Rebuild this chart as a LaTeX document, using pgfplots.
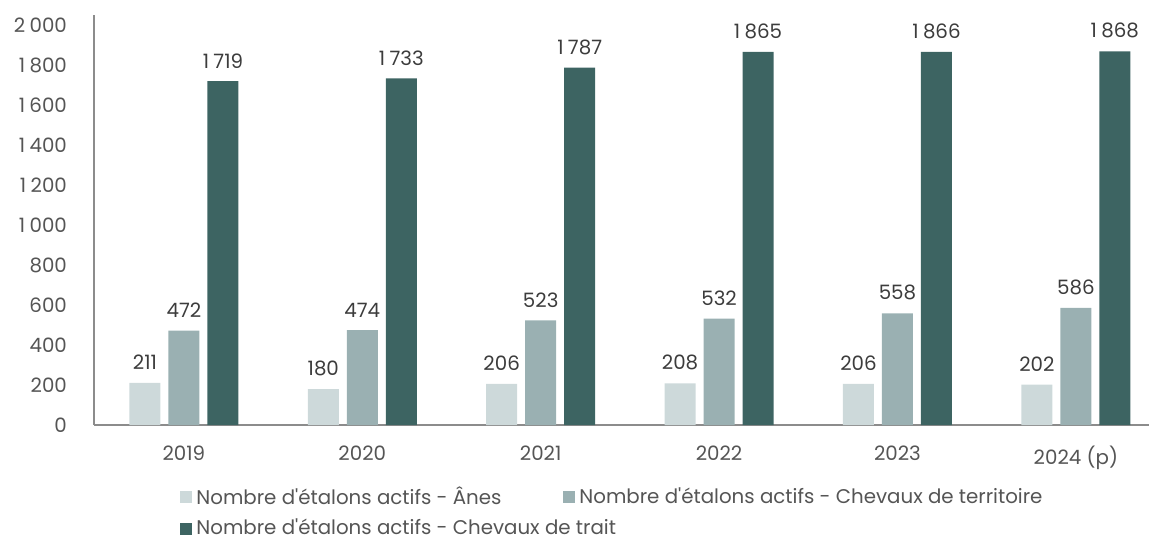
\documentclass[border=0pt]{standalone}
\usepackage{pgfplots}
\pgfplotsset{compat=1.18}
\usepackage{fontspec}
\setmainfont{Poppins}
\definecolor{cA}{RGB}{205,217,218}
\definecolor{cB}{RGB}{154,176,178}
\definecolor{cC}{RGB}{61,100,98}
\definecolor{txt}{RGB}{85,85,85}
\definecolor{lbl}{RGB}{60,60,60}
\definecolor{axl}{RGB}{140,140,140}
\newcommand{\f}{\fontsize{9.9}{11}\selectfont}
\begin{document}
\begin{tikzpicture}
\useasboundingbox (-47pt,-58pt) rectangle (529pt,212.5pt);
\begin{axis}[
  scale only axis, width=527.5pt, height=205pt,
  at={(0pt,0pt)}, anchor=south west,
  xmin=-0.504, xmax=5.41, ymin=0, ymax=2050,
  ybar=4pt, bar width=15.5pt,
  axis lines*=left,
  axis line style={axl, line width=0.75pt},
  xtick={0,1,2,3,4,5},
  xticklabels={2019,2020,2021,2022,2023,2024 (p)},
  ytick={0,200,...,2000},
  major tick length=0pt,
  tick label style={font=\f, text=txt},
  yticklabel style={xshift=-10pt},
  xticklabel style={yshift=-7pt},
  /pgf/number format/.cd, 1000 sep={\hspace{0.22em}}, assume math mode=true, /pgfplots/.cd,
  nodes near coords,
  nodes near coords style={font=\f, text=lbl, yshift=3pt},
  legend columns=2,
  legend cell align=left,
  legend style={draw=none, at={(axis description cs:0.5,0)}, anchor=north,
    xshift=-4pt, yshift=-26.5pt, font=\f, text=txt,
    /tikz/every even column/.append style={column sep=29pt},
    /tikz/row sep=2pt},
  legend image code/.code={\fill[#1] (-2pt,-3pt) rectangle (4pt,3pt);},
]
\addplot[fill=cA, draw=none] coordinates {(0,211) (1,180) (2,206) (3,208) (4,206) (5,202)};
\addlegendentry{Nombre d\textquotesingle étalons actifs - Ânes}
\addplot[fill=cB, draw=none] coordinates {(0,472) (1,474) (2,523) (3,532) (4,558) (5,586)};
\addlegendentry{Nombre d\textquotesingle étalons actifs - Chevaux de territoire}
\addplot[fill=cC, draw=none] coordinates {(0,1719) (1,1733) (2,1787) (3,1865) (4,1866) (5,1868)};
\addlegendentry{\rlap{Nombre d\textquotesingle étalons actifs - Chevaux de trait}}
\end{axis}
\end{tikzpicture}
\end{document}
